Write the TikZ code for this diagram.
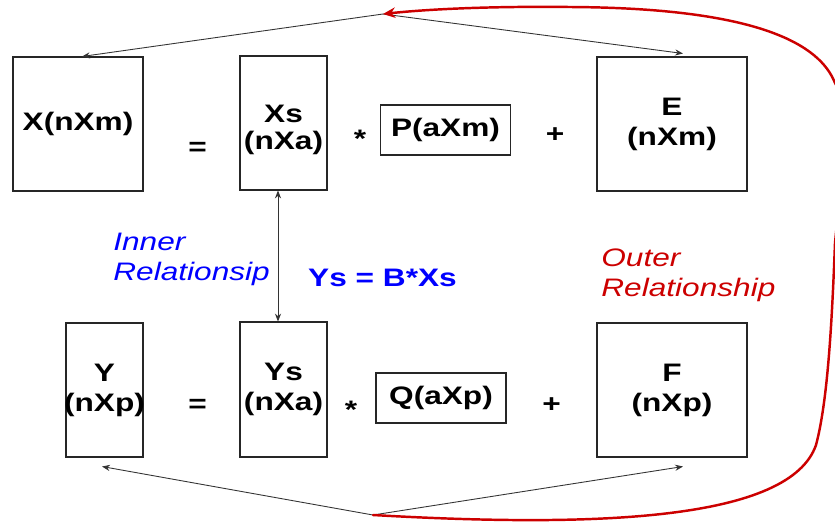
\documentclass[tikz,border=0pt]{standalone}
\usepackage{fontspec}
\setmainfont{Liberation Sans}[FakeStretch=1.25]
\usetikzlibrary{arrows.meta,calc}
\colorlet{plsLine}{black!85}
\definecolor{plsBlue}{RGB}{0,0,255}
\definecolor{plsRed}{RGB}{204,0,0}
\tikzset{
  plsbox/.style={
    rectangle, draw=plsLine, line width=0.6pt,
    inner sep=0pt, align=center,
    font=\fontsize{14.4}{17}\selectfont\bfseries
  },
  plsop/.style={inner sep=0pt, font=\fontsize{14.4}{17}\selectfont\bfseries},
  plsnote/.style={inner sep=0pt, align=left, font=\fontsize{14.4}{17}\selectfont\itshape},
  plsarrow/.style={-{Stealth[length=4.5pt,width=3.5pt]}, line width=0.5pt, draw=black!80},
  plsloop/.style={-{Stealth[length=7pt,width=6pt]}, line width=1.4pt, draw=plsRed, line cap=round}
}

\begin{document}
\begin{tikzpicture}[x=0.02cm,y=-0.02cm]
  \useasboundingbox (0,0) rectangle (835,525);

  % X = Xs * P + E
  \node[plsbox, minimum width=2.6cm, minimum height=2.68cm] (xmat) at (78,124) {X(nXm)};
  \node[plsop] (xeq) at (197.5,149) {=};
  \node[plsbox, minimum width=1.74cm, minimum height=2.68cm] (xsmat) at (283.5,123) {};
  \node[plsop, align=center] (xstext) at (283.5,130) {Xs\\[-0.07cm](nXa)};
  \node[plsop] (xmul) at (360,139) {*};
  \node[plsbox, minimum width=2.6cm, minimum height=1.0cm] (pmat) at (445.5,130) {P(aXm)};
  \node[plsop] (xplus) at (555,135) {+};
  \node[plsbox, minimum width=3.0cm, minimum height=2.68cm] (emat) at (672,124) {E\\(nXm)};

  % Y = Ys * Q + F
  \node[plsbox, minimum width=1.54cm, minimum height=2.68cm] (ymat) at (104.5,390) {};
  \node[plsop, align=center] (ytext) at (ymat.center) {Y\\(nXp)};
  \node[plsop] (yeq) at (197.5,406) {=};
  \node[plsbox, minimum width=1.74cm, minimum height=2.7cm] (ysmat) at (283.5,389.5)
    {Ys\\(nXa)};
  \node[plsop] (ymul) at (351,410) {*};
  \node[plsbox, minimum width=2.6cm, minimum height=1.0cm] (qmat) at (441,398) {Q(aXp)};
  \node[plsop] (yplus) at (551.5,405) {+};
  \node[plsbox, minimum width=3.0cm, minimum height=2.68cm] (fmat) at (672,390) {F\\(nXp)};

  % relations
  \node[plsnote, text=plsBlue, anchor=west] (inner) at (113,259) {Inner\\Relationsip};
  \node[plsop, text=plsBlue, anchor=base] (inrel) at (382.5,286) {Ys = B*Xs};
  \node[plsnote, text=plsRed, anchor=west] (outer) at (601,275) {Outer\\Relationship};

  \coordinate (topfork) at (383,14);
  \coordinate (botfork) at (373,515);

  \draw[plsarrow] (topfork) -- ([xshift=0.08cm]xmat.north);
  \draw[plsarrow] (topfork) -- ([xshift=0.22cm,yshift=0.06cm]emat.north);
  \draw[plsarrow] (botfork) -- ([xshift=-0.05cm,yshift=-0.18cm]ymat.south);
  \draw[plsarrow] (botfork) -- ([xshift=0.22cm,yshift=-0.18cm]fmat.south);
  \draw[plsarrow, {Stealth[length=4.5pt,width=3.5pt]}-{Stealth[length=4.5pt,width=3.5pt]}]
    ([xshift=-0.11cm]xsmat.south) -- ([xshift=-0.11cm]ysmat.north);

  \draw[plsloop] (botfork) .. controls (600,528) and (790,520) .. (816,445)
    .. controls (828,400) and (832,320) .. (835,243)
    .. controls (842,170) and (852,110) .. (835,83)
    .. controls (820,45) and (760,8) .. (570,7)
    .. controls (480,6) and (420,10) .. (topfork);
\end{tikzpicture}
\end{document}
